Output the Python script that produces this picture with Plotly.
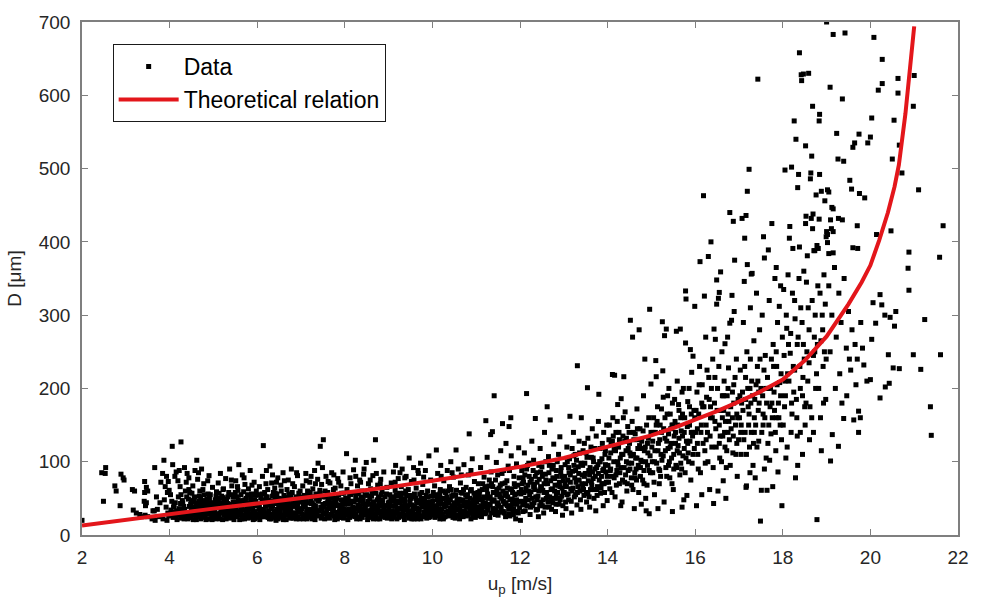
import plotly.graph_objects as go

# ---- Data (u_p [m/s], D [um]) ----
pts_2_4 = [(2.00,20),(2.45,85),(2.54,92),(2.53,84),(2.49,46),(2.75,67),(2.78,60),(2.89,83),(2.94,78),(2.96,75),
 (2.87,40),(3.15,62),(3.20,60),(3.17,34),(3.24,30),(3.32,28),(3.36,25),(3.43,73),(3.47,65),(3.43,58),(3.50,60),
 (3.42,46),(3.47,44),(3.45,40),(3.44,27),(3.50,25),(3.60,22),(3.67,20),(3.62,33),(3.66,92),(3.65,33),(3.72,35),
 (3.76,25),(3.87,102),(3.84,84),(3.80,72),(3.90,66),(3.93,80),(3.97,73),(3.95,58),(3.99,61),(3.88,48),(3.92,38),
 (3.96,30),(3.98,26),(3.85,22),(3.94,20),(3.78,44),(3.70,52)]

pts_4_5 = [(4.06,121),(4.26,127),(4.07,96),(4.15,86),(4.19,74),(4.24,66),(4.12,80),(4.22,88),(4.02,55),(4.05,46),
 (4.09,38),(4.11,31),(4.14,25),(4.17,21),(4.20,52),(4.25,43),(4.28,35),(4.31,28),(4.33,22),(4.36,60),(4.38,72),
 (4.40,84),(4.43,49),(4.45,39),(4.47,31),(4.49,24),(4.51,57),(4.53,67),(4.55,45),(4.57,36),(4.59,27),(4.61,21),
 (4.62,102),(4.64,76),(4.66,85),(4.68,53),(4.70,41),(4.72,33),(4.74,24),(4.76,62),(4.78,70),(4.80,47),(4.82,38),
 (4.84,29),(4.86,22),(4.88,56),(4.90,81),(4.92,44),(4.94,35),(4.96,26),(4.98,65),(4.44,78),(4.58,88),(4.34,92),
 (4.73,90),(4.87,74),
 (4.03,34),(4.08,24),(4.13,44),(4.18,29),(4.21,36),(4.27,23),(4.29,47),(4.32,39),(4.35,31),(4.37,26),(4.39,52),
 (4.42,22),(4.46,58),(4.48,42),(4.50,33),(4.52,28),(4.54,21),(4.56,51),(4.60,40),(4.63,31),(4.65,25),(4.67,46),
 (4.69,60),(4.71,22),(4.75,38),(4.77,29),(4.79,55),(4.81,26),(4.83,43),(4.85,34),(4.89,22),(4.91,50),(4.93,29),
 (4.95,41),(4.97,21),(4.99,36),
 (4.04,28),(4.10,42),(4.16,33),(4.23,27),(4.26,55),(4.30,44),(4.34,35),(4.41,30),(4.44,62),(4.46,24),(4.50,47),
 (4.53,38),(4.57,52),(4.60,30),(4.62,44),(4.66,35),(4.68,28),(4.71,51),(4.73,45),(4.77,42),(4.80,33),(4.83,21),
 (4.85,49),(4.88,38),(4.90,30),(4.93,55),(4.96,44),(4.98,30)]

pts_5_6 = [(5.02,31),(5.04,48),(5.05,22),(5.07,59),(5.09,38),(5.11,71),(5.12,26),(5.14,44),(5.16,84),(5.18,33),
 (5.19,53),(5.21,21),(5.23,63),(5.25,40),(5.26,29),(5.28,77),(5.30,49),(5.31,24),(5.33,35),(5.35,58),(5.37,90),
 (5.38,42),(5.40,27),(5.42,67),(5.44,31),(5.45,52),(5.47,21),(5.49,45),(5.51,74),(5.52,36),(5.54,25),(5.56,61),
 (5.58,96),(5.59,41),(5.61,30),(5.63,55),(5.65,22),(5.66,82),(5.68,47),(5.70,34),(5.72,69),(5.73,26),(5.75,50),
 (5.77,38),(5.79,23),(5.80,63),(5.82,44),(5.84,88),(5.86,29),(5.87,56),(5.89,35),(5.91,21),(5.93,72),(5.94,48),
 (5.96,32),(5.98,60),(5.99,25),(5.13,57),(5.36,33),(5.57,48),(5.78,31),(5.92,40),(5.24,46),(5.46,38),
 (5.01,26),(5.03,41),(5.06,53),(5.08,29),(5.10,45),(5.15,22),(5.17,37),(5.20,30),(5.22,51),(5.27,35),(5.29,22),
 (5.32,43),(5.34,28),(5.39,55),(5.41,37),(5.43,24),(5.48,30),(5.50,58),(5.53,44),(5.55,29),(5.60,21),(5.62,40),
 (5.64,34),(5.67,27),(5.69,59),(5.71,22),(5.74,42),(5.76,30),(5.81,25),(5.83,36),(5.85,51),(5.88,42),(5.90,28),
 (5.95,22),(5.97,46),(5.22,62),(5.55,66),(5.88,68),(5.41,75),(5.70,78),
 (5.03,35),(5.06,44),(5.09,25),(5.12,50),(5.15,30),(5.18,42),(5.21,36),(5.24,27),(5.27,46),(5.30,33),(5.33,52),
 (5.36,40),(5.39,23),(5.42,35),(5.45,45),(5.48,26),(5.51,40),(5.54,52),(5.57,33),(5.60,46),(5.63,28),(5.66,38),
 (5.69,24),(5.72,48),(5.75,33),(5.78,55),(5.81,40),(5.84,24),(5.87,46),(5.90,34),(5.93,26),(5.96,54),(5.99,40)]

pts_6_7 = [(6.01,42),(6.03,28),(6.05,66),(6.06,21),(6.08,51),(6.10,35),(6.12,80),(6.13,45),(6.14,122),(6.15,25),
 (6.17,58),(6.19,39),(6.21,88),(6.22,30),(6.24,62),(6.26,47),(6.28,22),(6.29,94),(6.31,36),(6.33,71),(6.35,53),
 (6.36,27),(6.38,43),(6.40,64),(6.42,33),(6.43,20),(6.45,56),(6.47,78),(6.49,40),(6.50,29),(6.52,49),(6.54,68),
 (6.56,24),(6.57,37),(6.59,85),(6.61,54),(6.63,31),(6.64,45),(6.66,21),(6.68,62),(6.70,38),(6.71,75),(6.73,27),
 (6.75,50),(6.77,34),(6.78,90),(6.80,58),(6.82,23),(6.84,43),(6.85,66),(6.87,30),(6.89,52),(6.91,37),(6.92,81),
 (6.94,25),(6.96,47),(6.98,60),(6.99,33),(6.07,33),(6.27,41),(6.46,35),(6.66,44),(6.86,39),(6.18,26),(6.39,24),
 (6.58,27),(6.79,28),
 (6.02,55),(6.04,36),(6.09,25),(6.11,48),(6.16,32),(6.20,52),(6.23,41),(6.25,24),(6.30,28),(6.32,46),(6.34,38),
 (6.37,58),(6.41,50),(6.44,27),(6.48,22),(6.51,36),(6.53,42),(6.55,60),(6.60,21),(6.62,39),(6.65,51),(6.67,29),
 (6.69,34),(6.72,56),(6.74,41),(6.76,23),(6.81,47),(6.83,30),(6.88,25),(6.90,44),(6.93,36),(6.95,57),(6.97,22),
 (6.20,70),(6.44,72),(6.62,74),(6.81,70),(6.35,82),(6.90,85),
 (6.02,24),(6.05,38),(6.08,30),(6.11,56),(6.14,34),(6.17,46),(6.20,25),(6.23,52),(6.26,33),(6.29,44),(6.32,22),
 (6.35,40),(6.38,31),(6.41,57),(6.44,43),(6.47,28),(6.50,50),(6.53,32),(6.56,45),(6.59,25),(6.62,50),(6.65,36),
 (6.68,27),(6.71,44),(6.74,33),(6.77,55),(6.80,40),(6.83,27),(6.86,48),(6.89,22),(6.92,42),(6.95,31),(6.98,52)]

pts_7_8 = [(7.01,45),(7.03,29),(7.04,67),(7.06,22),(7.08,54),(7.10,38),(7.11,84),(7.13,31),(7.15,60),(7.17,44),
 (7.18,24),(7.20,72),(7.22,49),(7.24,35),(7.25,27),(7.27,63),(7.29,41),(7.31,88),(7.32,21),(7.34,56),(7.36,33),
 (7.38,76),(7.39,98),(7.40,46),(7.41,26),(7.43,61),(7.44,121),(7.45,38),(7.47,69),(7.49,92),(7.50,29),(7.51,130),
 (7.52,52),(7.54,22),(7.56,43),(7.57,80),(7.59,34),(7.61,58),(7.63,25),(7.64,47),(7.66,71),(7.68,37),(7.70,85),
 (7.71,28),(7.73,53),(7.75,40),(7.77,21),(7.78,64),(7.80,45),(7.82,31),(7.84,77),(7.85,55),(7.87,24),(7.89,39),
 (7.91,67),(7.92,48),(7.94,30),(7.96,86),(7.98,57),(7.99,36),(7.07,41),(7.28,32),(7.48,35),(7.69,44),(7.88,33),
 (7.16,27),(7.35,50),(7.58,30),(7.79,26),(7.95,42),
 (7.02,36),(7.05,25),(7.09,48),(7.12,52),(7.14,22),(7.19,34),(7.21,58),(7.23,28),(7.26,44),(7.30,24),(7.33,39),
 (7.37,29),(7.42,50),(7.46,23),(7.53,38),(7.55,60),(7.60,44),(7.62,36),(7.65,23),(7.67,54),(7.72,33),(7.74,62),
 (7.76,26),(7.81,50),(7.83,22),(7.86,41),(7.90,27),(7.93,57),(7.97,23),(7.12,74),(7.33,70),(7.62,73),(7.86,72),
 (7.23,80),(7.75,82),
 (7.02,51),(7.05,40),(7.08,27),(7.11,46),(7.14,35),(7.17,55),(7.20,28),(7.23,43),(7.26,22),(7.29,52),(7.32,37),
 (7.35,27),(7.38,48),(7.41,33),(7.44,57),(7.47,25),(7.50,42),(7.53,30),(7.56,52),(7.59,24),(7.62,48),(7.65,38),
 (7.68,28),(7.71,50),(7.74,34),(7.77,45),(7.80,25),(7.83,40),(7.86,55),(7.89,30),(7.92,38),(7.95,24),(7.98,47)]

pts_8_9 = [(8.01,43),(8.02,27),(8.04,111),(8.05,62),(8.07,21),(8.08,50),(8.10,35),(8.12,78),(8.13,44),(8.15,26),
 (8.17,58),(8.18,38),(8.20,89),(8.22,30),(8.24,102),(8.25,52),(8.27,22),(8.29,67),(8.30,41),(8.32,33),(8.34,75),
 (8.36,47),(8.37,25),(8.39,60),(8.41,36),(8.43,83),(8.44,90),(8.45,29),(8.47,54),(8.49,99),(8.50,42),(8.52,21),
 (8.54,70),(8.55,32),(8.57,49),(8.59,63),(8.60,27),(8.62,39),(8.64,81),(8.66,102),(8.67,45),(8.69,24),(8.70,130),
 (8.71,57),(8.73,34),(8.75,68),(8.77,30),(8.78,48),(8.80,22),(8.82,76),(8.84,40),(8.85,59),(8.87,26),(8.89,86),
 (8.90,37),(8.92,52),(8.94,31),(8.96,65),(8.97,23),(8.99,44),(8.09,30),(8.28,36),(8.48,33),(8.68,35),(8.88,31),
 (8.19,46),(8.40,24),(8.58,28),(8.79,42),(8.95,28),
 (8.03,33),(8.06,48),(8.11,24),(8.14,55),(8.16,31),(8.21,45),(8.23,25),(8.26,37),(8.31,56),(8.33,24),(8.35,40),
 (8.38,30),(8.42,48),(8.46,40),(8.51,30),(8.53,46),(8.56,24),(8.61,53),(8.63,33),(8.65,22),(8.72,26),(8.74,48),
 (8.76,38),(8.81,31),(8.83,55),(8.86,44),(8.91,25),(8.93,40),(8.98,33),(8.14,70),(8.36,72),(8.58,75),(8.81,70),
 (8.25,80),(8.72,84),
 (8.02,50),(8.05,34),(8.08,42),(8.11,56),(8.14,27),(8.17,46),(8.20,36),(8.23,58),(8.26,28),(8.29,48),(8.32,38),
 (8.35,22),(8.38,52),(8.41,43),(8.44,28),(8.47,36),(8.50,55),(8.53,25),(8.56,42),(8.59,34),(8.62,58),(8.65,45),
 (8.68,28),(8.71,40),(8.74,22),(8.77,52),(8.80,33),(8.83,27),(8.86,48),(8.89,36),(8.92,24),(8.95,56),(8.98,40)]

pts_9_10 = [(9.01,38),(9.03,55),(9.04,24),(9.06,71),(9.08,33),(9.09,47),(9.11,86),(9.13,28),(9.15,61),(9.16,95),
 (9.17,41),(9.19,22),(9.21,53),(9.22,77),(9.24,36),(9.26,44),(9.28,26),(9.29,66),(9.31,90),(9.33,31),(9.35,57),
 (9.36,21),(9.38,49),(9.40,80),(9.42,38),(9.43,27),(9.45,62),(9.47,105),(9.49,45),(9.50,33),(9.52,73),(9.54,24),
 (9.56,52),(9.57,92),(9.59,40),(9.61,29),(9.63,64),(9.64,47),(9.66,22),(9.68,84),(9.70,35),(9.71,56),(9.73,98),
 (9.75,42),(9.77,26),(9.78,69),(9.80,31),(9.82,50),(9.84,88),(9.85,37),(9.87,23),(9.89,60),(9.91,45),(9.92,108),
 (9.94,29),(9.96,75),(9.98,53),(9.99,34),(9.10,32),(9.30,40),(9.51,28),(9.69,30),(9.88,40),(9.20,30),(9.41,34),
 (9.60,36),(9.79,39),(9.95,25),
 (9.02,45),(9.05,30),(9.07,22),(9.12,52),(9.14,39),(9.18,30),(9.23,24),(9.25,57),(9.27,35),(9.32,46),(9.34,26),
 (9.37,38),(9.39,60),(9.44,33),(9.46,23),(9.48,54),(9.53,41),(9.55,30),(9.58,22),(9.62,50),(9.65,37),(9.67,27),
 (9.72,45),(9.74,22),(9.76,58),(9.81,25),(9.83,43),(9.86,30),(9.90,52),(9.93,38),(9.97,27),(9.15,72),(9.37,78),
 (9.58,75),(9.80,79),(9.26,85),(9.67,88),
 (9.02,28),(9.05,50),(9.08,40),(9.11,24),(9.14,46),(9.17,55),(9.20,36),(9.23,46),(9.26,28),(9.29,52),(9.32,36),
 (9.35,25),(9.38,44),(9.41,54),(9.44,40),(9.47,30),(9.50,50),(9.53,22),(9.56,36),(9.59,56),(9.62,28),(9.65,44),
 (9.68,34),(9.71,24),(9.74,50),(9.77,38),(9.80,48),(9.83,28),(9.86,54),(9.89,34),(9.92,24),(9.95,45),(9.98,40)]

pts_10_11 = [(10.01,46),(10.03,30),(10.05,67),(10.06,24),(10.08,55),(10.09,116),(10.10,38),(10.12,84),(10.14,43),
 (10.16,27),(10.18,62),(10.19,95),(10.21,35),(10.23,50),(10.25,22),(10.26,74),(10.28,41),(10.30,58),(10.32,31),
 (10.34,88),(10.35,47),(10.37,26),(10.39,66),(10.41,37),(10.42,100),(10.44,53),(10.46,29),(10.48,79),(10.50,44),
 (10.52,23),(10.54,116),(10.55,61),(10.57,34),(10.59,90),(10.61,49),(10.63,28),(10.64,71),(10.66,40),(10.68,57),
 (10.70,25),(10.72,96),(10.73,45),(10.75,32),(10.77,65),(10.79,52),(10.81,27),(10.82,82),(10.84,138),(10.85,39),
 (10.87,60),(10.89,30),(10.91,104),(10.93,48),(10.94,36),(10.96,73),(10.98,24),(10.11,32),(10.31,40),(10.51,37),
 (10.71,33),(10.90,42),
 (10.02,36),(10.04,53),(10.07,29),(10.13,50),(10.15,33),(10.17,22),(10.20,46),(10.22,28),(10.24,60),(10.27,38),
 (10.29,25),(10.33,52),(10.36,33),(10.38,44),(10.40,29),(10.43,62),(10.45,40),(10.47,24),(10.49,35),(10.53,54),
 (10.56,27),(10.58,44),(10.60,35),(10.62,22),(10.65,58),(10.67,30),(10.69,48),(10.74,27),(10.76,55),(10.78,38),
 (10.80,45),(10.83,30),(10.86,50),(10.88,22),(10.92,33),(10.95,57),(10.97,43),(10.99,30),(10.20,80),(10.45,85),
 (10.66,82),(10.88,88),
 (10.02,58),(10.05,40),(10.08,26),(10.11,48),(10.14,36),(10.17,56),(10.20,30),(10.23,42),(10.26,24),(10.29,50),
 (10.32,44),(10.35,60),(10.38,28),(10.41,48),(10.44,34),(10.47,55),(10.50,30),(10.53,42),(10.56,48),(10.59,26),
 (10.62,38),(10.65,46),(10.68,32),(10.71,62),(10.74,40),(10.77,26),(10.80,54),(10.83,44),(10.86,36),(10.89,62),
 (10.92,27),(10.95,40),(10.98,52)]

pts_11_12 = [(11.01,45),(11.03,29),(11.05,70),(11.07,54),(11.08,36),(11.10,92),(11.12,25),(11.14,62),(11.16,42),
 (11.18,79),(11.20,31),(11.22,156),(11.23,51),(11.25,106),(11.27,38),(11.29,67),(11.31,24),(11.33,137),(11.34,86),
 (11.36,47),(11.37,141),(11.39,58),(11.41,190),(11.42,33),(11.44,75),(11.46,99),(11.48,43),(11.50,27),(11.52,64),
 (11.54,52),(11.56,115),(11.57,35),(11.59,84),(11.60,152),(11.62,46),(11.64,30),(11.66,71),(11.68,125),(11.69,57),
 (11.71,40),(11.73,94),(11.75,148),(11.77,26),(11.78,63),(11.80,108),(11.82,49),(11.84,34),(11.86,80),(11.88,55),
 (11.90,22),(11.92,97),(11.93,42),(11.95,68),(11.97,119),(11.99,37),(11.11,40),(11.43,58),(11.63,88),(11.85,28),
 (11.79,160),
 (11.02,38),(11.04,58),(11.06,26),(11.09,48),(11.13,33),(11.15,70),(11.17,52),(11.19,29),(11.21,44),(11.24,62),
 (11.26,34),(11.28,50),(11.30,75),(11.32,41),(11.35,30),(11.38,66),(11.40,46),(11.45,36),(11.47,55),(11.49,82),
 (11.51,40),(11.53,31),(11.55,68),(11.58,50),(11.61,60),(11.65,42),(11.67,25),(11.70,74),(11.72,52),(11.74,35),
 (11.76,88),(11.81,62),(11.83,43),(11.87,70),(11.89,32),(11.91,56),(11.94,45),(11.96,30),(11.98,78),
 (11.02,50),(11.05,34),(11.08,60),(11.11,28),(11.14,48),(11.17,38),(11.20,66),(11.23,30),(11.26,56),(11.29,42),
 (11.32,52),(11.35,70),(11.38,36),(11.41,48),(11.44,28),(11.47,62),(11.50,44),(11.53,56),(11.56,38),(11.59,70),
 (11.62,32),(11.65,54),(11.68,44),(11.71,64),(11.74,28),(11.77,48),(11.80,40),(11.83,58),(11.86,36),(11.89,66),
 (11.92,48),(11.95,32),(11.98,58)]

pts_12_13 = [(12.01,20),(12.02,56),(12.04,88),(12.06,41),(12.08,72),(12.10,112),(12.12,33),(12.14,64),(12.15,193),
 (12.17,95),(12.19,48),(12.21,80),(12.23,28),(12.25,59),(12.27,128),(12.29,40),(12.31,102),(12.33,69),(12.35,159),
 (12.36,52),(12.38,85),(12.40,35),(12.42,25),(12.44,76),(12.46,118),(12.48,45),(12.50,93),(12.52,61),(12.54,30),
 (12.56,140),(12.58,83),(12.60,50),(12.62,175),(12.63,70),(12.65,107),(12.67,38),(12.69,157),(12.71,62),(12.73,90),
 (12.75,44),(12.77,124),(12.79,77),(12.81,32),(12.83,56),(12.85,100),(12.87,68),(12.89,42),(12.91,134),(12.93,86),
 (12.95,53),(12.97,27),(12.99,74),(12.47,66),(12.88,110),
 (12.03,46),(12.05,70),(12.07,32),(12.09,58),(12.11,82),(12.13,50),(12.16,40),(12.18,68),(12.20,98),(12.22,55),
 (12.24,38),(12.26,76),(12.28,50),(12.30,88),(12.32,44),(12.34,62),(12.37,34),(12.39,72),(12.41,53),(12.43,95),
 (12.45,40),(12.49,64),(12.51,80),(12.53,48),(12.55,70),(12.57,38),(12.59,100),(12.61,58),(12.64,45),(12.66,85),
 (12.68,52),(12.70,74),(12.72,35),(12.74,63),(12.76,95),(12.78,50),(12.80,68),(12.82,42),(12.84,80),(12.86,58),
 (12.90,72),(12.92,48),(12.94,92),(12.96,64),(12.98,40),
 (12.03,62),(12.07,78),(12.11,45),(12.15,90),(12.19,60),(12.23,72),(12.27,42),(12.31,66),(12.35,80),(12.39,48),
 (12.43,60),(12.47,86),(12.51,40),(12.55,58),(12.59,75),(12.63,52),(12.67,95),(12.71,46),(12.75,78),(12.79,60),
 (12.83,88),(12.87,50),(12.91,66),(12.95,80),(12.99,58)]

pts_13_14 = [(13.01,58),(13.03,96),(13.05,36),(13.07,120),(13.09,75),(13.11,48),(13.13,104),(13.14,162),(13.16,63),
 (13.18,30),(13.20,87),(13.22,140),(13.24,52),(13.26,110),(13.28,72),(13.30,41),(13.31,231),(13.33,93),(13.35,128),
 (13.37,60),(13.39,35),(13.40,160),(13.42,82),(13.44,115),(13.46,54),(13.48,98),(13.50,70),(13.52,45),(13.54,201),
 (13.55,132),(13.57,88),(13.59,38),(13.61,62),(13.63,106),(13.65,145),(13.67,77),(13.69,50),(13.71,118),(13.73,33),
 (13.75,92),(13.77,66),(13.79,155),(13.80,192),(13.82,100),(13.84,57),(13.86,80),(13.88,125),(13.90,40),(13.92,70),
 (13.94,110),(13.96,86),(13.98,150),(13.99,47),
 (13.02,80),(13.04,45),(13.06,66),(13.08,100),(13.10,56),(13.12,85),(13.15,72),(13.17,46),(13.19,118),(13.21,64),
 (13.23,95),(13.25,78),(13.27,55),(13.29,102),(13.32,66),(13.34,84),(13.36,112),(13.38,48),(13.41,70),(13.43,95),
 (13.45,62),(13.47,125),(13.49,84),(13.51,58),(13.53,106),(13.56,74),(13.58,52),(13.60,92),(13.62,120),(13.64,68),
 (13.66,86),(13.68,100),(13.70,62),(13.72,80),(13.74,135),(13.76,54),(13.78,96),(13.81,75),(13.83,118),(13.85,64),
 (13.87,104),(13.89,88),(13.91,140),(13.93,58),(13.95,96),(13.97,72),
 (13.03,70),(13.07,55),(13.11,92),(13.15,82),(13.19,60),(13.23,108),(13.27,88),(13.31,58),(13.35,75),(13.39,98),
 (13.43,64),(13.47,80),(13.51,112),(13.55,56),(13.59,82),(13.63,72),(13.67,105),(13.71,90),(13.75,62),(13.79,84),
 (13.83,100),(13.87,70),(13.91,90),(13.95,115),(13.99,80)]

pts_14_15 = [(14.01,95),(14.03,130),(14.05,63),(14.07,112),(14.09,80),(14.11,219),(14.12,160),(14.14,100),(14.16,218),
 (14.17,52),(14.19,140),(14.21,88),(14.23,178),(14.25,120),(14.27,70),(14.29,105),(14.31,186),(14.33,45),(14.35,135),
 (14.37,216),(14.38,92),(14.40,168),(14.42,115),(14.44,60),(14.46,148),(14.48,98),(14.50,125),(14.52,293),(14.54,78),
 (14.56,155),(14.57,270),(14.59,110),(14.61,36),(14.63,138),(14.65,90),(14.67,172),(14.69,118),(14.71,58),(14.72,280),
 (14.74,145),(14.76,102),(14.78,128),(14.80,75),(14.82,190),(14.84,115),(14.85,240),(14.87,50),(14.89,150),(14.91,95),
 (14.93,132),(14.95,29),(14.96,308),(14.97,108),(14.99,206),(14.30,40),(14.58,62),(14.77,42),(14.88,33),
 (14.02,72),(14.04,150),(14.06,88),(14.08,125),(14.10,58),(14.13,135),(14.15,78),(14.18,115),(14.20,68),(14.22,155),
 (14.24,95),(14.26,140),(14.28,85),(14.32,110),(14.34,75),(14.36,160),(14.39,128),(14.41,82),(14.43,100),(14.45,70),
 (14.47,118),(14.49,140),(14.51,90),(14.53,108),(14.55,68),(14.60,130),(14.62,85),(14.64,105),(14.66,75),(14.68,145),
 (14.70,95),(14.73,122),(14.75,80),(14.79,100),(14.81,142),(14.83,88),(14.86,120),(14.90,68),(14.92,112),(14.94,160),
 (14.98,85),
 (14.03,105),(14.07,90),(14.11,128),(14.15,118),(14.19,82),(14.23,100),(14.27,130),(14.31,92),(14.35,110),(14.39,72),
 (14.43,132),(14.47,88),(14.51,112),(14.55,98),(14.59,140),(14.63,78),(14.67,105),(14.71,130),(14.75,92),(14.79,118),
 (14.83,70),(14.87,100),(14.91,125),(14.95,88),(14.99,140)]

pts_15_16 = [(15.01,120),(15.03,85),(15.05,160),(15.07,55),(15.09,140),(15.10,238),(15.11,216),(15.12,98),(15.14,175),
 (15.16,125),(15.18,70),(15.20,150),(15.22,110),(15.25,291),(15.26,224),(15.27,188),(15.29,45),(15.30,272),(15.31,132),
 (15.33,92),(15.34,281),(15.36,165),(15.38,118),(15.40,200),(15.42,78),(15.44,145),(15.46,105),(15.48,180),(15.50,62),
 (15.52,135),(15.54,155),(15.56,95),(15.57,278),(15.59,210),(15.61,122),(15.63,170),(15.65,82),(15.66,281),(15.68,142),
 (15.70,195),(15.72,108),(15.74,48),(15.76,160),(15.78,262),(15.78,333),(15.79,322),(15.80,128),(15.81,54),(15.83,182),
 (15.85,100),(15.87,150),(15.89,253),(15.90,75),(15.92,222),(15.94,135),(15.95,244),(15.97,170),(15.99,312),(15.15,36),
 (15.48,32),(15.70,38),
 (15.02,100),(15.04,140),(15.06,72),(15.08,115),(15.13,155),(15.17,90),(15.19,130),(15.21,80),(15.23,172),(15.24,102),
 (15.28,145),(15.32,115),(15.35,80),(15.37,190),(15.39,138),(15.41,100),(15.43,165),(15.45,125),(15.47,70),(15.49,150),
 (15.51,110),(15.53,185),(15.55,125),(15.58,92),(15.60,150),(15.62,178),(15.64,112),(15.67,160),(15.69,90),(15.71,135),
 (15.73,200),(15.75,118),(15.77,85),(15.82,148),(15.84,112),(15.86,200),(15.88,128),(15.91,165),(15.93,98),(15.96,140),
 (15.98,118),
 (15.03,128),(15.07,100),(15.11,150),(15.15,115),(15.19,88),(15.23,140),(15.27,108),(15.31,160),(15.35,128),(15.39,95),
 (15.43,120),(15.47,150),(15.51,90),(15.55,140),(15.59,115),(15.63,132),(15.67,98),(15.71,165),(15.75,140),(15.79,105),
 (15.83,125),(15.87,175),(15.91,140),(15.95,110),(15.99,160)]

pts_16_17 = [(16.01,140),(16.03,40),(16.04,195),(16.06,110),(16.08,165),(16.10,230),(16.11,373),(16.12,85),(16.14,150),
 (16.16,205),(16.18,125),(16.19,463),(16.20,175),(16.21,326),(16.23,98),(16.24,270),(16.26,188),(16.28,140),(16.30,380),
 (16.31,215),(16.33,62),(16.35,160),(16.36,400),(16.38,120),(16.40,240),(16.42,43),(16.43,281),(16.44,180),(16.46,267),
 (16.47,145),(16.49,348),(16.49,315),(16.51,200),(16.53,323),(16.55,331),(16.56,105),(16.58,359),(16.59,170),(16.61,250),
 (16.63,135),(16.64,74),(16.66,210),(16.68,261),(16.69,155),(16.71,92),(16.73,190),(16.74,270),(16.76,228),(16.78,130),
 (16.79,289),(16.79,440),(16.81,175),(16.83,293),(16.84,327),(16.86,112),(16.87,428),(16.88,205),(16.89,305),(16.90,375),
 (16.92,150),(16.94,240),(16.96,80),(16.98,185),(16.15,55),(16.52,60),(16.70,50),(16.55,150),(16.62,190),(16.68,120),
 (16.75,165),(16.82,145),(16.88,180),(16.95,125),
 (16.02,170),(16.05,125),(16.07,90),(16.09,205),(16.13,140),(16.17,175),(16.22,115),(16.25,150),(16.27,225),(16.29,100),
 (16.32,185),(16.34,135),(16.37,200),(16.39,160),(16.41,92),(16.45,215),(16.48,120),(16.50,170),(16.54,230),(16.57,135),
 (16.60,100),(16.62,160),(16.65,190),(16.67,140),(16.72,115),(16.75,200),(16.77,155),(16.80,95),(16.85,160),(16.87,135),
 (16.91,215),(16.93,110),(16.97,160),(16.99,130),
 (16.05,145),(16.15,180),(16.25,130),(16.35,175),(16.45,155),(16.55,125),(16.65,170),(16.75,140),(16.85,195),(16.95,165)]

pts_17_18 = [(17.01,160),(17.03,225),(17.05,110),(17.07,432),(17.08,195),(17.10,290),(17.12,346),(17.13,405),(17.14,140),
 (17.16,436),(17.16,65),(17.17,67),(17.18,250),(17.19,369),(17.21,175),(17.23,499),(17.24,120),(17.26,310),(17.28,356),
 (17.29,210),(17.30,357),(17.32,95),(17.34,265),(17.36,185),(17.38,150),(17.40,330),(17.42,230),(17.43,622),(17.45,128),
 (17.47,280),(17.49,19),(17.50,200),(17.51,61),(17.53,300),(17.55,165),(17.56,407),(17.58,378),(17.60,245),(17.62,105),
 (17.64,61),(17.65,215),(17.67,389),(17.69,320),(17.71,175),(17.73,138),(17.75,425),(17.77,66),(17.78,260),(17.80,195),
 (17.82,350),(17.84,115),(17.86,230),(17.88,290),(17.89,86),(17.91,160),(17.93,208),(17.95,340),(17.97,130),(17.98,40),
 (17.99,270),(17.25,85),(17.58,90),(17.70,102),(17.37,78),(17.19,469),(17.02,190),(17.09,170),(17.15,215),(17.22,150),
 (17.27,180),(17.33,125),(17.39,205),(17.44,170),(17.52,140),(17.57,225),(17.63,180),(17.68,150),(17.74,240),(17.81,170),
 (17.87,205),(17.94,150),(17.85,365),(17.92,312),
 (17.04,140),(17.06,180),(17.11,130),(17.13,230),(17.17,110),(17.20,200),(17.23,165),(17.26,240),(17.28,140),(17.31,190),
 (17.35,160),(17.41,120),(17.43,210),(17.46,180),(17.48,240),(17.54,190),(17.59,160),(17.61,200),(17.66,125),(17.72,200),
 (17.76,160),(17.79,230),(17.83,140),(17.85,250),(17.90,180),(17.96,220),
 (17.05,150),(17.15,185),(17.25,200),(17.35,140),(17.45,195),(17.55,150),(17.65,200),(17.75,180),(17.85,160),(17.95,190)]

pts_18_19 = [(18.01,150),(18.03,245),(18.05,498),(18.06,190),(18.08,300),(18.10,120),(18.12,355),(18.14,210),(18.15,405),
 (18.16,421),(18.18,275),(18.20,502),(18.21,165),(18.23,391),(18.24,230),(18.26,565),(18.27,320),(18.29,78),(18.30,540),
 (18.31,185),(18.33,260),(18.34,474),(18.34,95),(18.36,492),(18.37,350),(18.38,658),(18.38,393),(18.40,140),(18.42,628),
 (18.43,620),(18.44,290),(18.46,215),(18.47,629),(18.48,360),(18.50,175),(18.52,531),(18.52,425),(18.53,435),(18.55,250),
 (18.56,381),(18.58,310),(18.59,630),(18.61,130),(18.63,486),(18.64,494),(18.65,432),(18.66,517),(18.68,585),(18.68,418),
 (18.69,438),(18.71,388),(18.72,270),(18.73,388),(18.75,200),(18.76,464),(18.78,395),(18.78,21),(18.80,340),(18.81,391),
 (18.83,431),(18.83,565),(18.84,574),(18.84,492),(18.86,160),(18.88,469),(18.90,300),(18.92,230),(18.94,355),(18.96,456),
 (18.98,185),(18.99,407),(18.07,105),(18.45,110),(18.88,115),(18.02,335),(18.09,282),(18.17,248),(18.22,330),(18.28,295),
 (18.35,270),(18.41,310),(18.49,240),(18.54,345),(18.60,280),(18.67,320),(18.70,245),(18.74,300),(18.79,260),(18.85,330),
 (18.91,280),(18.95,250),(18.97,315),(18.04,175),(18.11,220),(18.19,140),(18.25,195),(18.32,160),(18.39,230),(18.45,190),
 (18.51,150),(18.57,210),(18.62,175),(18.70,140),(18.77,220),
 (18.05,210),(18.13,260),(18.20,180),(18.27,225),(18.33,135),(18.40,200),(18.47,260),(18.53,180),(18.60,235),(18.66,160),
 (18.73,250),(18.82,200),(18.87,265),(18.93,180),(18.99,240)]

pts_19_20 = [(19.00,700),(19.15,683),(19.42,685),(19.08,611),(19.36,595),(19.23,548),(19.74,547),(19.64,535),(19.60,529),
 (19.94,535),(19.26,513),(19.39,510),(19.53,484),(19.57,472),(19.75,466),(19.87,460),(19.02,471),(19.05,468),(19.12,447),
 (19.15,445),(19.09,430),(19.27,432),(19.36,430),(19.00,414),(19.11,418),(19.15,414),(19.70,422),(19.02,410),(19.02,399),
 (19.05,384),(19.15,385),(19.60,392),(19.71,391),(19.73,169),(19.77,160),(19.73,140),(19.62,157),(19.39,159),(19.27,121),
 (19.09,101),(19.13,137),(19.05,340),(19.12,300),(19.18,365),(19.22,270),(19.28,330),(19.33,290),(19.40,350),(19.45,255),
 (19.50,305),(19.55,225),(19.58,280),(19.65,260),(19.70,240),(19.78,290),(19.85,232),(19.92,210),(19.08,250),(19.20,200),
 (19.30,220),(19.46,190),(19.52,240),(19.67,205),(19.82,255),(19.35,180)]

pts_20_22 = [(20.08,679),(20.27,649),(20.18,607),(20.27,616),(20.63,623),(21.00,627),(20.63,603),(20.98,585),(20.03,569),
 (20.54,566),(20.00,543),(20.50,513),(20.66,532),(20.72,494),(21.10,471),(21.66,422),(20.14,410),(20.47,415),(20.88,386),
 (21.58,379),(20.86,364),(20.88,334),(21.24,294),(21.60,246),(20.98,246),(20.52,228),(20.66,227),(21.15,226),(20.41,246),
 (21.37,175),(21.39,136),(20.22,328),(20.26,314),(20.06,317),(20.33,300),(20.45,297),(20.58,305),(20.55,285),(20.12,289),
 (20.03,267),(20.00,212),(20.22,187),(20.34,202),(20.43,207)]

# Theoretical relation
curve_u = [2.0, 3.0, 4.0, 5.0, 6.0, 7.0, 8.0, 9.0, 10.0, 11.0, 12.0, 13.0, 14.0, 15.0, 15.5, 16.0, 16.5, 17.0,
           17.5, 18.0, 18.5, 19.0, 19.5, 19.8, 20.0, 20.2, 20.4, 20.55, 20.65, 20.8, 20.9, 21.0]
curve_D = [13, 21, 29, 36, 43, 50, 57, 65, 74, 83, 93, 105, 120, 136, 146, 157, 169, 182,
           196, 212, 238, 271, 315, 345, 368, 402, 440, 475, 505, 575, 635, 694]

x_ticks = [2, 4, 6, 8, 10, 12, 14, 16, 18, 20, 22]
y_ticks = [0, 100, 200, 300, 400, 500, 600, 700]

all_pts = (pts_2_4 + pts_4_5 + pts_5_6 + pts_6_7 + pts_7_8 + pts_8_9 + pts_9_10 + pts_10_11 +
           pts_11_12 + pts_12_13 + pts_13_14 + pts_14_15 + pts_15_16 + pts_16_17 + pts_17_18 +
           pts_18_19 + pts_19_20 + pts_20_22)
data_u = [p[0] for p in all_pts]
data_D = [p[1] for p in all_pts]

FONT = "Liberation Sans, Arial, Helvetica, sans-serif"
TXT = "#262626"
AX = "#7f7f7f"

fig = go.Figure()
fig.add_trace(go.Scatter(x=data_u, y=data_D, mode="markers", name="Data",
                         marker=dict(symbol="square", size=5, color="black", line=dict(width=0))))
fig.add_trace(go.Scatter(x=curve_u, y=curve_D, mode="lines", name="Theoretical relation",
                         line=dict(color="#e3161b", width=4)))

axis_common = dict(showgrid=False, zeroline=False, showline=True, linecolor=AX, linewidth=1.5,
                   mirror="allticks", ticks="inside", ticklen=6, tickcolor=AX, tickwidth=1,
                   tickfont=dict(family=FONT, size=19, color=TXT))
fig.update_xaxes(range=[2, 22], tickvals=x_ticks, ticklabelstandoff=4, **axis_common,
                 title=dict(text="u<sub>p</sub> [m/s]", font=dict(family=FONT, size=19, color=TXT), standoff=10))
fig.update_yaxes(range=[0, 700], tickvals=y_ticks, ticklabelstandoff=6, **axis_common,
                 title=dict(text="D [μm]", font=dict(family=FONT, size=19, color=TXT), standoff=12))

fig.update_layout(
    width=981, height=609,
    margin=dict(l=82, r=14, t=14, b=74),
    paper_bgcolor="white", plot_bgcolor="white",
    font=dict(family=FONT, color=TXT),
    legend=dict(x=0.035, y=0.957, xanchor="left", yanchor="top",
                bgcolor="white", bordercolor="#1a1a1a", borderwidth=1,
                font=dict(family=FONT, size=23, color="black"),
                itemwidth=60, tracegroupgap=0),
    showlegend=True,
)

fig.write_html("out.html")
